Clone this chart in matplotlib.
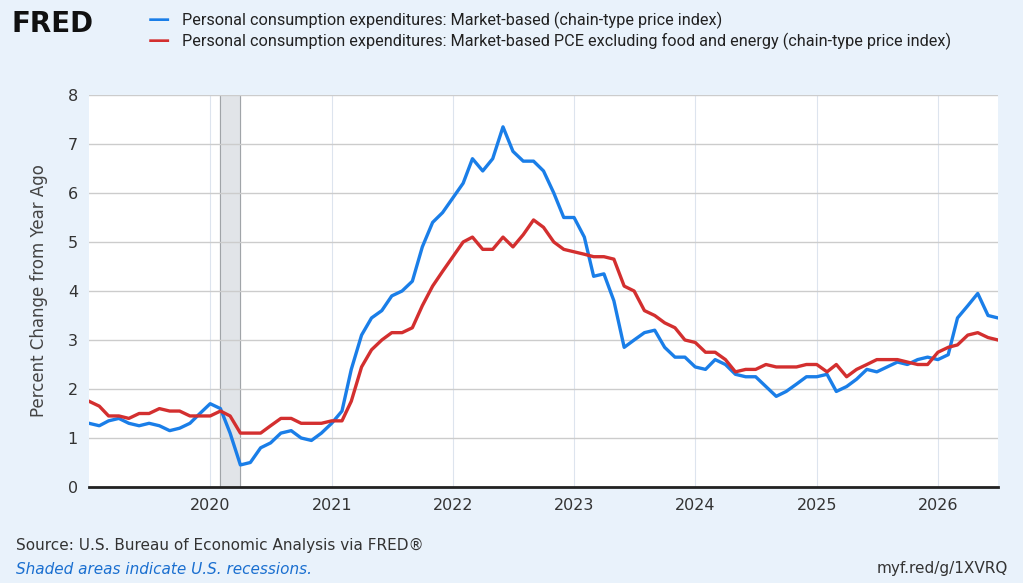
import matplotlib
matplotlib.use("Agg")
import matplotlib.pyplot as plt
import numpy as np
import pandas as pd

# monthly observations, Jan 2019 .. Jul 2026 (percent change from year ago)
months = pd.date_range("2019-01-01", periods=91, freq="MS")
pce = [
    1.3, 1.25, 1.35, 1.4, 1.3, 1.25, 1.3, 1.25, 1.15, 1.2, 1.3, 1.5,
    1.7, 1.6, 1.1, 0.45, 0.5, 0.8, 0.9, 1.1, 1.15, 1.0, 0.95, 1.1,
    1.3, 1.55, 2.4, 3.1, 3.45, 3.6, 3.9, 4.0, 4.2, 4.9, 5.4, 5.6,
    5.9, 6.2, 6.7, 6.45, 6.7, 7.35, 6.85, 6.65, 6.65, 6.45, 6.0, 5.5,
    5.5, 5.1, 4.3, 4.35, 3.8, 2.85, 3.0, 3.15, 3.2, 2.85, 2.65, 2.65,
    2.45, 2.4, 2.6, 2.5, 2.3, 2.25, 2.25, 2.05, 1.85, 1.95, 2.1, 2.25,
    2.25, 2.3, 1.95, 2.05, 2.2, 2.4, 2.35, 2.45, 2.55, 2.5, 2.6, 2.65,
    2.6, 2.7, 3.45, 3.7, 3.95, 3.5, 3.45,
]
core = [
    1.75, 1.65, 1.45, 1.45, 1.4, 1.5, 1.5, 1.6, 1.55, 1.55, 1.45, 1.45,
    1.45, 1.55, 1.45, 1.1, 1.1, 1.1, 1.25, 1.4, 1.4, 1.3, 1.3, 1.3,
    1.35, 1.35, 1.75, 2.45, 2.8, 3.0, 3.15, 3.15, 3.25, 3.7, 4.1, 4.4,
    4.7, 5.0, 5.1, 4.85, 4.85, 5.1, 4.9, 5.15, 5.45, 5.3, 5.0, 4.85,
    4.8, 4.75, 4.7, 4.7, 4.65, 4.1, 4.0, 3.6, 3.5, 3.35, 3.25, 3.0,
    2.95, 2.75, 2.75, 2.6, 2.35, 2.4, 2.4, 2.5, 2.45, 2.45, 2.45, 2.5,
    2.5, 2.35, 2.5, 2.25, 2.4, 2.5, 2.6, 2.6, 2.6, 2.55, 2.5, 2.5,
    2.75, 2.85, 2.9, 3.1, 3.15, 3.05, 3.0,
]
recession = (pd.Timestamp("2020-02-01"), pd.Timestamp("2020-04-01"))
year_ticks = [pd.Timestamp(f"{y}-01-01") for y in range(2020, 2027)]

BG = "#e9f2fb"
BLUE = "#1a7ee8"
RED = "#d32f2f"

fig = plt.figure(figsize=(10.23, 5.83), dpi=100, facecolor=BG)
ax = fig.add_axes([89 / 1023, 1 - 487 / 583, 909 / 1023, 392 / 583])

ax.axvspan(*recession, color="#e1e4e8", zorder=0)
for d in recession:
    ax.axvline(d, color="#a0a4a8", lw=0.8, zorder=0.5)
ax.plot(months, pce, color=BLUE, lw=2.4, zorder=3)
ax.plot(months, core, color=RED, lw=2.4, zorder=3)

ax.set_xlim(pd.Timestamp("2019-01-01"), pd.Timestamp("2026-07-01"))
ax.set_ylim(0, 8)
ax.set_yticks(range(0, 9))
ax.set_xticks(year_ticks)
ax.set_xticklabels([str(d.year) for d in year_ticks])
ax.grid(axis="y", color="#cccccc", lw=1)
ax.grid(axis="x", color="#dde4ee", lw=0.8)
ax.set_axisbelow(True)
for s in ["top", "right", "left"]:
    ax.spines[s].set_visible(False)
ax.spines["bottom"].set_color("#222222")
ax.spines["bottom"].set_linewidth(2)
ax.tick_params(length=0, labelsize=11.5, colors="#333333", pad=8)
ax.set_ylabel("Percent Change from Year Ago", fontsize=12, color="#444444", labelpad=14)

# header
fig.text(12 / 1023, 1 - 24 / 583, "FRED", fontsize=20, fontweight="bold", color="#111111", va="center")
fig.text(148 / 1023, 1 - 20 / 583, "\u2014", fontsize=16, color=BLUE, va="center", fontweight="bold")
fig.text(148 / 1023, 1 - 41 / 583, "\u2014", fontsize=16, color=RED, va="center", fontweight="bold")
fig.text(182 / 1023, 1 - 20 / 583,
         "Personal consumption expenditures: Market-based (chain-type price index)",
         fontsize=11.7, color="#222222", va="center", family="Roboto", stretch="condensed")
fig.text(182 / 1023, 1 - 41 / 583,
         "Personal consumption expenditures: Market-based PCE excluding food and energy (chain-type price index)",
         fontsize=11.7, color="#222222", va="center", family="Roboto", stretch="condensed")

# footer
fig.text(16 / 1023, 1 - 545 / 583, "Source: U.S. Bureau of Economic Analysis via FRED\u00ae",
         fontsize=11, color="#333333", va="center")
fig.text(16 / 1023, 1 - 569 / 583, "Shaded areas indicate U.S. recessions.",
         fontsize=11, color="#1a6fd0", style="italic", va="center")
fig.text(1008 / 1023, 1 - 569 / 583, "myf.red/g/1XVRQ",
         fontsize=11, color="#333333", va="center", ha="right")

fig.savefig("out.png", dpi=100, facecolor=BG)
